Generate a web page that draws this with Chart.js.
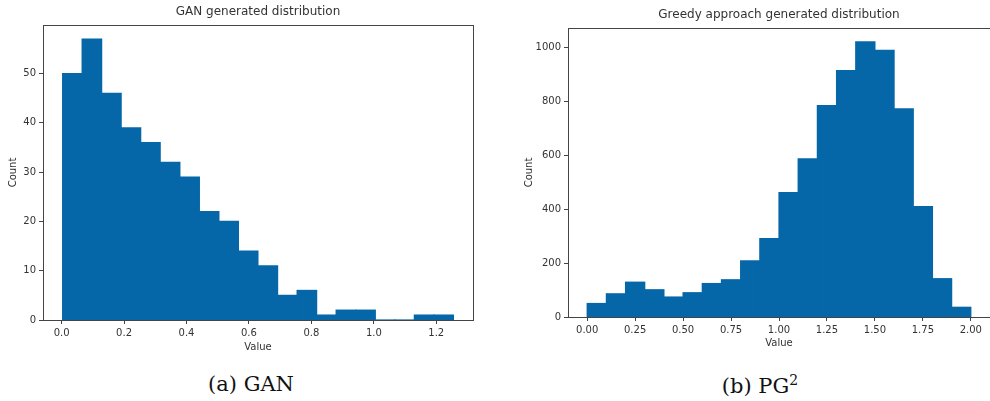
<!DOCTYPE html>
<html>
<head>
<meta charset="utf-8">
<script src="https://cdn.jsdelivr.net/npm/chart.js@4"></script>
<style>
  body { margin: 0; background: #fff; width: 990px; height: 401px; position: relative; overflow: hidden; }
  canvas { position: absolute; top: 0; }
  #ganChart { left: 0; }
  #greedyChart { left: 500px; }
  .caption { position: absolute; top: 372px; font-family: "DejaVu Serif", serif; font-size: 21px; color: #111; transform: translateX(-50%); white-space: nowrap; }
  .caption sup { font-size: 14px; }
</style>
</head>
<body>
<canvas id="ganChart" width="480" height="360"></canvas>
<canvas id="greedyChart" width="490" height="360"></canvas>
<div class="caption" style="left: 251px;">(a) GAN</div>
<div class="caption" style="left: 760px;">(b) PG<sup>2</sup></div>

<script>
"use strict";

// GAN histogram (20 bins)
const ganEdges = [0.003, 0.066, 0.128, 0.191, 0.253, 0.316, 0.379, 0.441, 0.504, 0.566, 0.629,
                  0.692, 0.754, 0.817, 0.879, 0.942, 1.005, 1.067, 1.130, 1.192, 1.255];
const ganCounts = [50, 57, 46, 39, 36, 32, 29, 22, 20, 14, 11, 5, 6, 1, 2, 2, 0, 0, 1, 1];
const ganXTicks = [0.0, 0.2, 0.4, 0.6, 0.8, 1.0, 1.2];
const ganYTicks = [0, 10, 20, 30, 40, 50];

// Greedy approach histogram (20 bins)
const greedyEdges = [0.0, 0.1, 0.2, 0.3, 0.4, 0.5, 0.6, 0.7, 0.8, 0.9, 1.0,
                     1.1, 1.2, 1.3, 1.4, 1.5, 1.6, 1.7, 1.8, 1.9, 2.0];
const greedyCounts = [50, 86, 129, 101, 74, 90, 124, 138, 208, 291, 461, 586, 783, 913, 1020, 988, 771, 409, 142, 36];
const greedyXTicks = [0.0, 0.25, 0.5, 0.75, 1.0, 1.25, 1.5, 1.75, 2.0];
const greedyYTicks = [0, 200, 400, 600, 800, 1000];

const BAR_COLOR = "#0667a8";
const TEXT_COLOR = "#333";

// draws the box around the plot area like matplotlib spines
const spinePlugin = {
  id: "spines",
  afterDraw(chart) {
    const { ctx, chartArea } = chart;
    ctx.save();
    ctx.strokeStyle = "#444";
    ctx.lineWidth = 1;
    ctx.strokeRect(Math.round(chartArea.left) + 0.5, Math.round(chartArea.top) + 0.5,
                   Math.round(chartArea.right - chartArea.left), Math.round(chartArea.bottom - chartArea.top));
    ctx.restore();
  }
};

function makeHistogram(canvasId, opts) {
  const points = opts.counts.map((c, i) => ({ x: (opts.edges[i] + opts.edges[i + 1]) / 2, y: c }));
  const span = opts.edges[opts.edges.length - 1] - opts.edges[0];
  const xMin = opts.edges[0] - span * 0.05;
  const xMax = opts.edges[opts.edges.length - 1] + span * 0.05;
  const yMax = Math.max(...opts.counts) * 1.05;

  return new Chart(document.getElementById(canvasId), {
    type: "bar",
    data: {
      datasets: [{
        data: points,
        backgroundColor: BAR_COLOR,
        borderWidth: 0,
        inflateAmount: 0.6,
        barPercentage: 1.0,
        categoryPercentage: 1.0,
        grouped: false
      }]
    },
    options: {
      responsive: false,
      animation: false,
      layout: { padding: opts.padding },
      plugins: {
        legend: { display: false },
        tooltip: { enabled: false },
        title: {
          display: true,
          text: opts.title,
          fullSize: false,
          color: TEXT_COLOR,
          font: { family: "DejaVu Sans", size: 12, weight: "normal" },
          padding: opts.titlePadding
        }
      },
      scales: {
        x: {
          type: "linear",
          min: xMin,
          max: xMax,
          offset: false,
          grid: { offset: false, drawOnChartArea: false, drawTicks: true, tickLength: 4, color: "#444" },
          border: { display: false },
          afterBuildTicks: (scale) => { scale.ticks = opts.xTicks.map(v => ({ value: v })); },
          afterFit: (scale) => { scale.height = opts.xAxisHeight; },
          ticks: {
            color: TEXT_COLOR,
            font: { family: "DejaVu Sans", size: 10 },
            padding: 3,
            maxRotation: 0,
            callback: (v) => v.toFixed(opts.xDecimals)
          },
          title: { display: true, text: "Value", color: TEXT_COLOR, font: { family: "DejaVu Sans", size: 10 }, padding: 4 }
        },
        y: {
          min: 0,
          max: yMax,
          grid: { drawOnChartArea: false, drawTicks: true, tickLength: 4, color: "#444" },
          border: { display: false },
          afterBuildTicks: (scale) => { scale.ticks = opts.yTicks.map(v => ({ value: v })); },
          afterFit: (scale) => { scale.width = opts.yAxisWidth; },
          ticks: {
            color: TEXT_COLOR,
            font: { family: "DejaVu Sans", size: 10 },
            padding: 3,
            callback: (v) => String(v)
          },
          title: { display: true, text: "Count", color: TEXT_COLOR, font: { family: "DejaVu Sans", size: 10 }, padding: opts.yTitlePadding }
        }
      }
    },
    plugins: [spinePlugin]
  });
}

makeHistogram("ganChart", {
  title: "GAN generated distribution",
  edges: ganEdges,
  counts: ganCounts,
  xTicks: ganXTicks,
  yTicks: ganYTicks,
  xDecimals: 1,
  padding: { left: 0, right: 7, top: 0, bottom: 3 },
  titlePadding: { top: 5, bottom: 5.6 },
  xAxisHeight: 37,
  yAxisWidth: 43,
  yTitlePadding: 7
});

makeHistogram("greedyChart", {
  title: "Greedy approach generated distribution",
  edges: greedyEdges,
  counts: greedyCounts,
  xTicks: greedyXTicks,
  yTicks: greedyYTicks,
  xDecimals: 2,
  padding: { left: 19, right: 0, top: 0, bottom: 7 },
  titlePadding: { top: 8, bottom: 5.6 },
  xAxisHeight: 36,
  yAxisWidth: 49,
  yTitlePadding: 4
});
</script>
</body>
</html>
